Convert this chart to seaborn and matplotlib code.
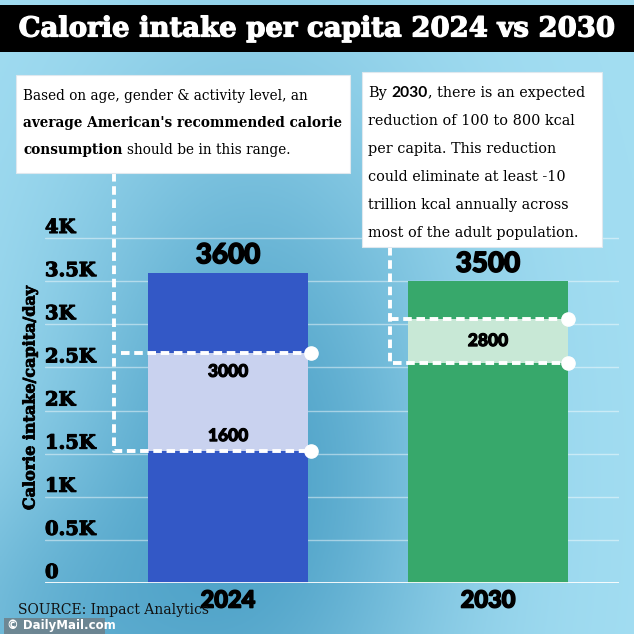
import numpy as np
import pandas as pd
import matplotlib
matplotlib.use("Agg")
import matplotlib.pyplot as plt
import matplotlib.transforms as mtransforms
import matplotlib.patheffects as pe
from matplotlib.patches import Rectangle
import seaborn as sns

# ---------------- data ----------------
years = ["2024", "2030"]
intake = [3600, 3500]
intake_labels = ["3600", "3500"]
range_low = [1530, 2550]
range_high = [2670, 3060]
range_labels_2024 = ["3000", "1600"]
range_label_2030 = "2800"
yticks = [0, 500, 1000, 1500, 2000, 2500, 3000, 3500, 4000]
ytick_labels = ["0", "0.5K", "1K", "1.5K", "2K", "2.5K", "3K", "3.5K", "4K"]
bar_colors = ["#3358c6", "#37a86b"]
range_colors = ["#c9d2ef", "#c8e8d6"]

title = "Calorie intake per capita 2024 vs 2030"
ylabel = "Calorie intake/capita/day"
note1 = [
    [("Based on age, gender & activity level, an", "normal")],
    [("average American's recommended calorie", "bold")],
    [("consumption", "bold"), (" ", None), ("should be in this range.", "normal")],
]
note2 = [
    [("By", "normal"), (" ", None), ("2030", "sansbold"), (", there is an expected", "normal")],
    [("reduction of 100 to 800 kcal", "normal")],
    [("per capita. This reduction", "normal")],
    [("could eliminate at least -10", "normal")],
    [("trillion kcal annually across", "normal")],
    [("most of the adult population.", "normal")],
]
source = "SOURCE: Impact Analytics"

# ---------------- figure ----------------
sns.set_theme(style="white")
W = H = 634
fig = plt.figure(figsize=(6.34, 6.34), dpi=100)

def fx(x):
    return x / W

def fy(y):
    return 1 - y / H

heavy = [pe.withStroke(linewidth=1.1, foreground="black")]
heavy_w = [pe.withStroke(linewidth=0.9, foreground="white")]

# background gradient
bg = fig.add_axes([0, 0, 1, 1], zorder=0)
gx, gy = np.meshgrid(np.linspace(0, 1, 300), np.linspace(0, 1, 300))
light = np.array([0.64, 0.87, 0.95])
dark = np.array([0.30, 0.63, 0.78])
w = 0.95 * np.exp(-((gx - 0.40) ** 2 / 0.10 + (gy - 0.75) ** 2 / 0.35))
w += 0.45 * np.exp(-((gx - 0.05) ** 2 / 0.06 + (gy - 1.0) ** 2 / 0.06))
w = np.clip(w, 0, 1)
img = light[None, None, :] * (1 - w[..., None]) + dark[None, None, :] * w[..., None]
bg.imshow(img, extent=[0, 1, 0, 1], origin="upper", aspect="auto")
bg.set_axis_off()

# title bar
fig.patches.append(Rectangle((0, fy(52)), 1, (52 - 5) / H, transform=fig.transFigure,
                             facecolor="black", edgecolor="none", zorder=2))
fig.text(0.5, fy(29), title, ha="center", va="center", color="white",
         fontsize=19.8, fontweight="bold", family="DejaVu Serif", zorder=3,
         path_effects=heavy_w)

# main axes
ax = fig.add_axes([fx(45), 51 / H, 574 / W, 517.5 / H], zorder=1)
ax.patch.set_alpha(0)
df = pd.DataFrame({"year": years, "intake": intake})
bw = 0.615
sns.barplot(data=df, x="year", y="intake", hue="year", palette=bar_colors,
            width=bw, saturation=1, legend=False, ax=ax, linewidth=0, zorder=2)
ax.set_ylim(0, 6000)
ax.set_xlim(-0.704, 1.504)
ax.set_yticks(yticks)
ax.set_yticklabels([])
ax.tick_params(length=0)
ax.yaxis.grid(True, color="white", alpha=0.45, lw=1)
ax.set_axisbelow(True)
for s in ax.spines.values():
    s.set_visible(False)
ax.set_xlabel("")
ax.set_ylabel("")
ax.set_xticks(range(len(years)))
ax.set_xticklabels(years, fontsize=17, fontweight="black", family="Lato", color="black")
for t in ax.get_xticklabels():
    t.set_path_effects(heavy)
ax.tick_params(axis="x", pad=4)
ax.axhline(0, color="white", lw=2, zorder=6)

# y tick labels above gridlines
btrans = mtransforms.blended_transform_factory(ax.transAxes, ax.transData)
lab_trans = mtransforms.offset_copy(btrans, fig=fig, x=0, y=5, units="dots")
for v, l in zip(yticks, ytick_labels):
    ax.text(0, v, l, transform=lab_trans, ha="left", va="baseline",
            fontsize=14, fontweight="bold", family="DejaVu Serif", color="black",
            path_effects=[pe.withStroke(linewidth=0.8, foreground="black")])

fig.text(fx(30), fy(398), ylabel, rotation=90, ha="center", va="center",
         fontsize=11.5, fontweight="bold", family="DejaVu Serif", color="black",
         path_effects=[pe.withStroke(linewidth=0.6, foreground="black")])

# bar value labels
for i, (v, l) in enumerate(zip(intake, intake_labels)):
    ax.annotate(l, (i, v), xytext=(0, 3), textcoords="offset points",
                ha="center", va="bottom", fontsize=20, fontweight="black",
                family="Lato", color="black", zorder=7, path_effects=heavy)

# recommended ranges
for i in range(len(years)):
    ax.add_patch(Rectangle((i - bw / 2, range_low[i]), bw, range_high[i] - range_low[i],
                           facecolor=range_colors[i], edgecolor="none", zorder=3))

lab_kw = dict(fontsize=12.5, fontweight="black", family="Lato", color="black", zorder=7,
              path_effects=[pe.withStroke(linewidth=0.8, foreground="black")])
ax.annotate(range_labels_2024[0], (0, range_high[0]), xytext=(0, -8), textcoords="offset points",
            ha="center", va="top", **lab_kw)
ax.annotate(range_labels_2024[1], (0, range_low[0]), xytext=(0, 5), textcoords="offset points",
            ha="center", va="bottom", **lab_kw)
ax.text(1, (range_low[1] + range_high[1]) / 2, range_label_2030, ha="center", va="center", **lab_kw)

# note boxes
boxes = [(16, 75, 350, 173), (362, 72, 602, 247)]
for (x0, y0, x1, y1) in boxes:
    fig.patches.append(Rectangle((fx(x0), fy(y1)), (x1 - x0) / W, (y1 - y0) / H,
                                 transform=fig.transFigure, facecolor="white",
                                 edgecolor="#dfe8ee", lw=0.8, zorder=2))

inv = ax.transData.inverted()

def to_data(px, py):
    disp = fig.transFigure.transform((fx(px), fy(py)))
    return inv.transform(disp)

dash_kw = dict(color="white", lw=2.8, dashes=(2.2, 1.2), zorder=5, clip_on=False,
               solid_capstyle="butt", dash_capstyle="butt")

# connector 2024
xv, ytop = to_data(114, 173)
xs, _ = to_data(121, 173)
xr = 0 + bw / 2 + 0.01
ax.plot([xv, xv, xr], [ytop, range_low[0], range_low[0]], **dash_kw)
ax.plot([xs, xr], [range_high[0], range_high[0]], **dash_kw)
ax.plot([xr, xr], [range_low[0], range_high[0]], "o", ms=9.5, color="white", zorder=6, clip_on=False)

# connector 2030
xv2, ytop2 = to_data(390, 247)
xr2 = 1 + bw / 2
ax.plot([xv2, xv2, xr2], [ytop2, range_low[1], range_low[1]], **dash_kw)
ax.plot([xv2, xr2], [range_high[1], range_high[1]], **dash_kw)
ax.plot([xr2, xr2], [range_low[1], range_high[1]], "o", ms=9.5, color="white", zorder=6, clip_on=False)

# box texts with mixed weights
fig.canvas.draw()
renderer = fig.canvas.get_renderer()

def draw_runs(x_px, y_px, parts, size):
    x = x_px
    for s, wgt in parts:
        if wgt is None:
            x += 0.318 * size * 100 / 72
            continue
        if wgt == "sansbold":
            t = fig.text(fx(x), fy(y_px), s, fontsize=size * 1.08, fontweight="bold", family="Lato",
                         ha="left", va="baseline", color="black", zorder=4)
        else:
            t = fig.text(fx(x), fy(y_px), s, fontsize=size, fontweight=wgt, family="DejaVu Serif",
                         ha="left", va="baseline", color="black", zorder=4)
        bb = t.get_window_extent(renderer=renderer)
        x += bb.width

for k, line in enumerate(note1):
    draw_runs(23, 100 + k * 27, line, 9.85)
for k, line in enumerate(note2):
    draw_runs(368, 97 + k * 28, line, 10.4)

# source & credit
fig.text(fx(18), fy(614), source, ha="left", va="baseline", fontsize=10,
         family="DejaVu Serif", color="#111111", zorder=3)
fig.patches.append(Rectangle((fx(4), 0), 101 / W, 16 / H, transform=fig.transFigure,
                             facecolor="#6e7f88", edgecolor="none", alpha=0.85, zorder=4))
fig.text(fx(7), fy(626), "© DailyMail.com", ha="left", va="center", fontsize=8.5,
         fontweight="bold", family="DejaVu Sans", color="white", zorder=5)

fig.savefig("out.png", dpi=100)
